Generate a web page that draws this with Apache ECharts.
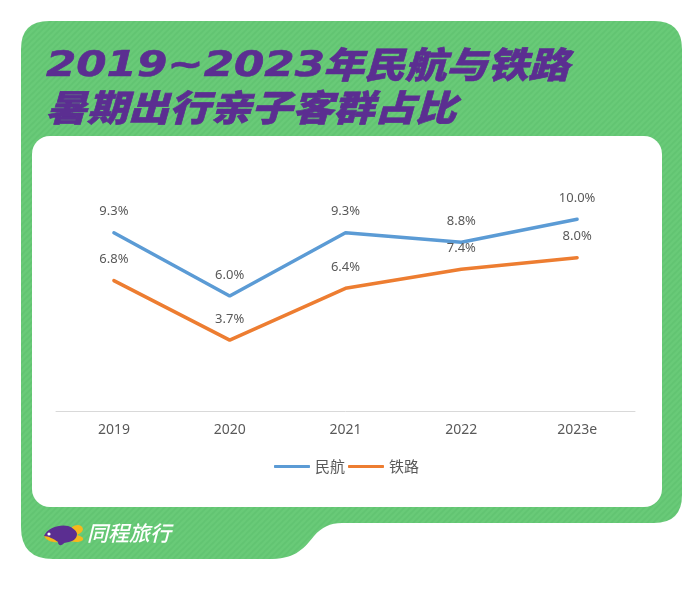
<!DOCTYPE html>
<html>
<head>
<meta charset="utf-8">
<style>html,body{margin:0;padding:0;background:#fff}#main{width:693px;height:590px}</style>
<script src="https://cdn.jsdelivr.net/npm/echarts@6/dist/echarts.min.js"></script>
</head>
<body>
<div id="main"></div>
<script>
var years=['2019','2020','2021','2022','2023e'];
var minhang=[9.3,6.0,9.3,8.8,10.0];
var tielu=[6.8,3.7,6.4,7.4,8.0];
var titleDigits='2019~2023';
var titleRest='年民航与铁路';
var titleLine2='暑期出行亲子客群占比';

// 背景斜纹
var c=document.createElement('canvas');
c.width=6;c.height=6;
var g=c.getContext('2d');
g.fillStyle='#69ca78';
g.fillRect(0,0,6,6);
g.strokeStyle='#62c472';
g.lineWidth=1.6;
g.beginPath();
g.moveTo(-1,7);g.lineTo(7,-1);
g.moveTo(-1,1);g.lineTo(1,-1);
g.moveTo(5,7);g.lineTo(7,5);
g.stroke();

// graphic 组件没有 path 类型，先注册
function addShape(name,d){
    echarts.graphic.registerShape(name,echarts.graphic.extendPath(d,{}));
}
addShape('bgShape','M49 21H654Q682 21 682 49V495Q682 523 654 523H342C330 523 322 527 314 536C302 551 294 559 268 559H53Q21 559 21 527V49Q21 21 49 21Z');
addShape('logoTail','M72 527C76 524 82 524 83 529C83 532 79 534 77 535C80 536 84 537 83 540C79 543 74 542 70 541Z');
addShape('logoBody','M44 536C47 528 60 524 68 526C74 528 77 532 77 534C77 540 71 542 64 543C62 546 58 546 58 542C52 542 47 540 44 536Z');
addShape('logoBelly','M44 536C48 536 54 539 58 542C52 543 46 540 44 536Z');

var cjk='"Noto Sans CJK SC","Noto Sans",sans-serif';
var latin='"Noto Sans",'+cjk;
var purple='#5b2e91';
var myChart=echarts.init(document.getElementById('main'),null,{renderer:'canvas'});

function fmt(p){
    return p.value.toFixed(1)+'%';
}
function titleText(txt,x,y,sx,font){
    return {
        type:'text',z:5,x:x,y:y,scaleX:sx,
        style:{text:txt,fill:purple,stroke:purple,lineWidth:0.6,font:font}
    };
}

var option={
    animation:false,
    backgroundColor:'#fff',
    textStyle:{fontFamily:latin},
    graphic:{elements:[
        {type:'bgShape',z:-10,style:{fill:{image:c,repeat:'repeat'}}},
        {
            type:'rect',z:-9,
            shape:{x:32,y:136,width:630,height:371,r:18},
            style:{fill:'#fff'}
        },
        titleText(titleDigits,46,49,1.21,'italic 700 36px "DejaVu Sans"'),
        titleText(titleRest,323,46,1.14,'italic 900 36px '+cjk),
        titleText(titleLine2,46,89,1.14,'italic 900 36px '+cjk),
        // logo
        {type:'logoTail',z:5,style:{fill:'#f5b81c'}},
        {type:'logoBody',z:6,style:{fill:purple}},
        {type:'logoBelly',z:7,style:{fill:'#f5b81c'}},
        {type:'circle',z:8,shape:{cx:49,cy:534,r:1.6},style:{fill:'#fff'}},
        {
            type:'text',z:5,x:87,y:523,
            style:{text:'同程旅行',fill:'#fff',font:'italic 500 21px '+cjk}
        }
    ]},
    grid:{left:56,right:58,top:181,height:230},
    legend:{
        bottom:111,left:'center',
        itemWidth:36,itemHeight:3,itemGap:3,
        icon:'roundRect',
        textStyle:{color:'#595959',fontSize:15,fontFamily:cjk},
        data:['民航','铁路']
    },
    xAxis:{
        type:'category',
        data:years,
        axisLine:{lineStyle:{color:'#d9d9d9',width:1}},
        axisTick:{show:false},
        axisLabel:{color:'#595959',fontSize:14,margin:12}
    },
    yAxis:{
        type:'value',
        min:0,max:12,
        show:false,
        splitLine:{show:false}
    },
    series:[
        {
            name:'民航',type:'line',
            data:minhang,
            symbol:'circle',symbolSize:1,
            lineStyle:{color:'#5b9bd5',width:3.5,cap:'round'},
            itemStyle:{color:'#5b9bd5'},
            label:{show:true,position:'top',distance:14,color:'#595959',fontSize:13,formatter:fmt}
        },
        {
            name:'铁路',type:'line',
            data:tielu,
            symbol:'circle',symbolSize:1,
            lineStyle:{color:'#ed7d31',width:3.5,cap:'round'},
            itemStyle:{color:'#ed7d31'},
            label:{show:true,position:'top',distance:14,color:'#595959',fontSize:13,formatter:fmt}
        }
    ]
};
myChart.setOption(option);
</script>
</body>
</html>
